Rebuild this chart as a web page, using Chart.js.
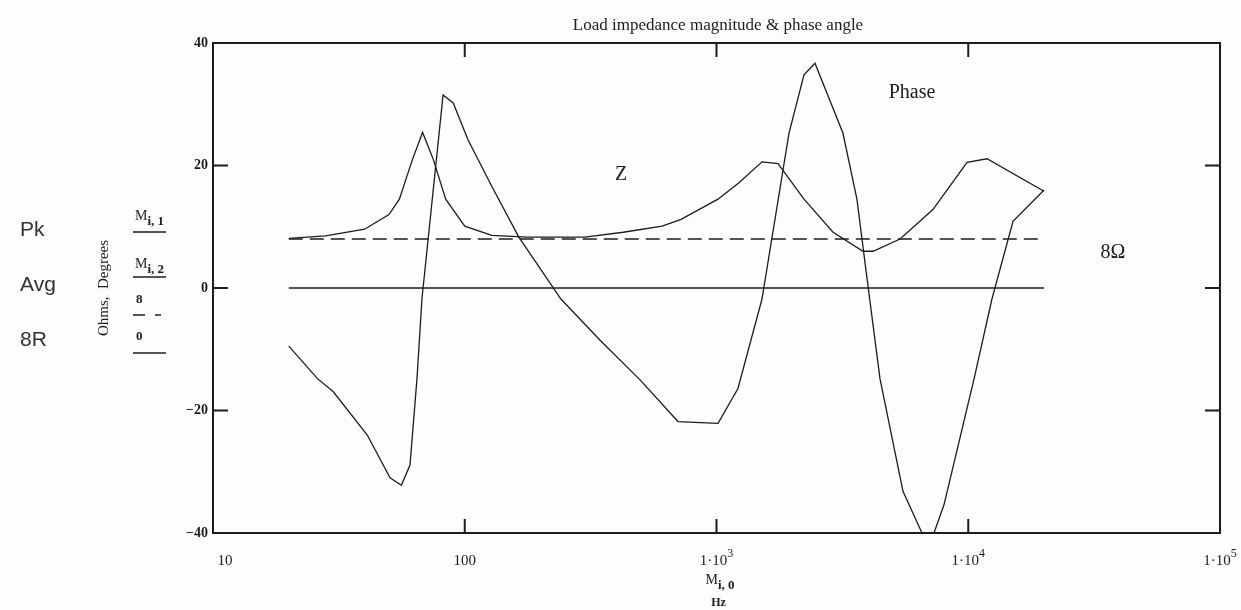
<!DOCTYPE html>
<html>
<head>
<meta charset="utf-8">
<script src="https://cdn.jsdelivr.net/npm/chart.js@4"></script>
<style>
    html, body { margin: 0; padding: 0; background: #fdfdfc; }
    canvas { display: block; }
</style>
</head>
<body>
<canvas id="chart" width="1241" height="610"></canvas>
<script>
// impedance magnitude (Ohms) vs frequency
const zFreq = [20, 28, 40, 50, 55, 62, 68, 75, 84, 100, 128, 177, 300, 426, 608, 723, 1014, 1228, 1516, 1755, 2226, 2904, 3820, 4187, 5360, 7240, 9890, 11870, 20000];
const zOhms = [8.1, 8.5, 9.6, 12, 14.5, 21, 25.4, 21, 14.5, 10.1, 8.6, 8.3, 8.3, 9.1, 10.1, 11.2, 14.5, 17.2, 20.6, 20.3, 14.5, 9.1, 6.0, 6.0, 8.0, 12.8, 20.5, 21.1, 15.8];

// phase angle (degrees) vs frequency
const phFreq = [20, 26, 30, 41, 50.5, 56, 60.6, 64.6, 67.6, 82, 90, 103, 128, 164, 241, 344, 497, 703, 1014, 1217, 1516, 1941, 2226, 2461, 3178, 3612, 3998, 4460, 5505, 6550, 7310, 8010, 10550, 12420, 15060, 20000];
const phDeg = [-9.5, -14.8, -16.9, -24, -31, -32.2, -28.9, -14.8, -1.8, 31.5, 30.2, 24.2, 16.6, 8.3, -1.8, -8.5, -15, -21.8, -22.1, -16.4, -1.8, 25.3, 34.8, 36.7, 25.3, 14.5, 0.3, -14.8, -33.2, -40, -40, -35.4, -14.8, -1.8, 10.9, 16];

// reference lines (8 ohm and zero) from 20 Hz to 20 kHz
const refFreq = [20, 20000];
const eightOhm = [8, 8];
const zeroLine = [0, 0];

// axis ticks
const xTicks = [10, 100, 1000, 10000, 100000];
const xTickLabels = ['10', '100', '1\u00b710|3', '1\u00b710|4', '1\u00b710|5'];
const yTicks = [40, 20, 0, -20, -40];

const SERIF = '"Liberation Serif", "DejaVu Serif", serif';
const SANS = '"Liberation Sans", Arial, sans-serif';
const INK = '#1c1c1c';

function pairs(xs, ys) {
    return xs.map((x, i) => ({ x: x, y: ys[i] }));
}

function lineSet(xs, ys, dash) {
    return {
        data: pairs(xs, ys),
        borderColor: INK,
        borderWidth: 1.3,
        borderDash: dash || [],
        pointRadius: 0,
        tension: 0,
        fill: false
    };
}

// draws "M" with an "i, n" subscript
function drawSubM(ctx, x, y, sub) {
    ctx.font = '14px ' + SERIF;
    ctx.textAlign = 'left';
    ctx.textBaseline = 'alphabetic';
    ctx.fillText('M', x, y);
    const w = ctx.measureText('M').width;
    ctx.font = 'bold 13px ' + SERIF;
    ctx.fillText(sub, x + w, y + 5);
}

const decorPlugin = {
    id: 'mathcadDecor',
    afterDraw(chart) {
        const ctx = chart.ctx;
        const a = chart.chartArea;
        const xs = chart.scales.x;
        const ys = chart.scales.y;
        ctx.save();
        ctx.strokeStyle = INK;
        ctx.fillStyle = INK;

        // frame
        ctx.lineWidth = 2;
        ctx.strokeRect(a.left, a.top, a.right - a.left, a.bottom - a.top);

        // inner ticks
        ctx.beginPath();
        xTicks.slice(1, -1).forEach(v => {
            const px = xs.getPixelForValue(v);
            ctx.moveTo(px, a.bottom); ctx.lineTo(px, a.bottom - 14);
            ctx.moveTo(px, a.top); ctx.lineTo(px, a.top + 14);
        });
        yTicks.slice(1, -1).forEach(v => {
            const py = ys.getPixelForValue(v);
            ctx.moveTo(a.left, py); ctx.lineTo(a.left + 15, py);
            ctx.moveTo(a.right, py); ctx.lineTo(a.right - 15, py);
        });
        ctx.stroke();

        // y tick labels
        ctx.font = 'bold 14px ' + SERIF;
        ctx.textAlign = 'right';
        ctx.textBaseline = 'middle';
        yTicks.forEach(v => {
            const py = ys.getPixelForValue(v);
            const txt = v < 0 ? '\u2212' + Math.abs(v) : String(v);
            ctx.fillText(txt, a.left - 5, py);
        });

        // x tick labels
        xTicks.forEach((v, i) => {
            const px = xs.getPixelForValue(v);
            const parts = xTickLabels[i].split('|');
            ctx.font = '15px ' + SERIF;
            ctx.textBaseline = 'alphabetic';
            const w1 = ctx.measureText(parts[0]).width;
            let w2 = 0;
            if (parts[1]) {
                ctx.font = '12px ' + SERIF;
                w2 = ctx.measureText(parts[1]).width;
            }
            let left = px - (w1 + w2) / 2 + (i === 0 ? 12 : 0);
            if (left + w1 + w2 > 1238) left = 1238 - w1 - w2;
            ctx.textAlign = 'left';
            ctx.font = '15px ' + SERIF;
            ctx.fillText(parts[0], left, a.bottom + 32);
            if (parts[1]) {
                ctx.font = '12px ' + SERIF;
                ctx.fillText(parts[1], left + w1, a.bottom + 24);
            }
        });

        // x axis name
        const cx = xs.getPixelForValue(1000);
        drawSubM(ctx, cx - 11, a.bottom + 51, 'i, 0');
        ctx.font = 'bold 12px ' + SERIF;
        ctx.textAlign = 'center';
        ctx.fillText('Hz', cx + 2, a.bottom + 73);

        // title
        ctx.font = '17px ' + SERIF;
        ctx.textAlign = 'center';
        ctx.fillText('Load impedance magnitude & phase angle', 718, 30);

        // in-plot labels
        ctx.font = '20px ' + SERIF;
        ctx.fillText('Z', 621, 180);
        ctx.fillText('Phase', 912, 98);
        ctx.fillText('8\u03a9', 1113, 258);

        // y axis name
        ctx.save();
        ctx.translate(104, 288);
        ctx.rotate(-Math.PI / 2);
        ctx.font = '15px ' + SERIF;
        ctx.textAlign = 'center';
        ctx.textBaseline = 'middle';
        ctx.fillText('Ohms,  Degrees', 0, 0);
        ctx.restore();

        // legend names
        ctx.font = '21px ' + SANS;
        ctx.fillStyle = '#333';
        ctx.textAlign = 'left';
        ctx.textBaseline = 'middle';
        ctx.fillText('Pk', 20, 230);
        ctx.fillText('Avg', 20, 285);
        ctx.fillText('8R', 20, 340);

        // legend keys
        ctx.fillStyle = INK;
        drawSubM(ctx, 135, 220, 'i, 1');
        drawSubM(ctx, 135, 268, 'i, 2');
        ctx.font = 'bold 13px ' + SERIF;
        ctx.fillText('8', 136, 303);
        ctx.fillText('0', 136, 340);
        ctx.lineWidth = 1.6;
        ctx.beginPath();
        ctx.moveTo(133, 232); ctx.lineTo(166, 232);
        ctx.moveTo(133, 277); ctx.lineTo(166, 277);
        ctx.moveTo(133, 315); ctx.lineTo(145, 315);
        ctx.moveTo(155, 315); ctx.lineTo(161, 315);
        ctx.moveTo(133, 353); ctx.lineTo(166, 353);
        ctx.stroke();

        ctx.restore();
    }
};

new Chart(document.getElementById('chart'), {
    type: 'line',
    data: {
        datasets: [
            lineSet(zFreq, zOhms),
            lineSet(phFreq, phDeg),
            lineSet(refFreq, eightOhm, [14, 7]),
            lineSet(refFreq, zeroLine)
        ]
    },
    options: {
        responsive: false,
        animation: false,
        layout: { padding: { left: 213, right: 21, top: 43, bottom: 77 } },
        plugins: {
            legend: { display: false },
            tooltip: { enabled: false }
        },
        scales: {
            x: { type: 'logarithmic', min: 10, max: 100000, display: false },
            y: { type: 'linear', min: -40, max: 40, display: false }
        }
    },
    plugins: [decorPlugin]
});
</script>
</body>
</html>
